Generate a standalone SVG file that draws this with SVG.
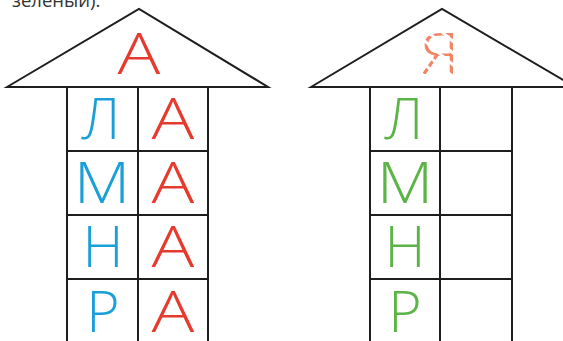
<svg xmlns="http://www.w3.org/2000/svg" width="563" height="341" viewBox="0 0 563 341">
<defs>
<pattern id="dash" patternUnits="userSpaceOnUse" width="9" height="9" patternTransform="rotate(40)">
<rect width="9" height="9" fill="#fff"/>
<rect x="0" y="0" width="9" height="3" fill="#000"/>
</pattern>
<mask id="dmask" maskUnits="userSpaceOnUse" x="400" y="20" width="80" height="65">
<rect x="400" y="20" width="80" height="65" fill="url(#dash)"/>
</mask>
</defs>
<style>
.ln{fill:none;stroke:#1e1e1e;stroke-width:2;stroke-linejoin:miter}
.lt{font-family:"Open Sans","Noto Sans",sans-serif;font-weight:300;font-size:57px;text-anchor:middle}
.b{fill:#1a9fd8}.r{fill:#e63a2e}.g{fill:#5ab446}
.cap{font-family:"Open Sans","Noto Sans",sans-serif;font-size:18.5px;fill:#333}
</style>
<rect width="563" height="341" fill="#fff"/>
<text class="cap" x="12" y="7">зеленый).</text>
<g id="house-left">
<path class="ln" d="M7,87 L139,9 L268,87 Z"/>
<path class="ln" d="M67,87 V345 M138,87 V345 M208,87 V345 M67,151 H208 M67,215 H208 M67,279 H208"/>
<text class="lt r" transform="translate(139,74) scale(1.25,1)">А</text>
<text class="lt b" x="101" y="139">Л</text>
<text class="lt b" transform="translate(102,203) scale(1.15,1)">М</text>
<text class="lt b" x="103" y="267">Н</text>
<text class="lt b" x="103" y="332">Р</text>
<text class="lt r" transform="translate(173,139) scale(1.25,1)">А</text>
<text class="lt r" transform="translate(173,203) scale(1.25,1)">А</text>
<text class="lt r" transform="translate(173,267) scale(1.25,1)">А</text>
<text class="lt r" transform="translate(173,332) scale(1.25,1)">А</text>
</g>
<g id="house-right">
<path class="ln" d="M311,87 L442,9 L575,87 Z"/>
<path class="ln" d="M370,87 V345 M440,87 V345 M512,87 V345 M370,151 H512 M370,215 H512 M370,279 H512"/>
<g mask="url(#dmask)">
<text class="lt" transform="translate(440,74) scale(1.15,1)" fill="#f08565">Я</text>
</g>
<text class="lt g" x="404" y="139">Л</text>
<text class="lt g" transform="translate(405,203) scale(1.15,1)">М</text>
<text class="lt g" x="405" y="267">Н</text>
<text class="lt g" x="405" y="332">Р</text>
</g>
</svg>
